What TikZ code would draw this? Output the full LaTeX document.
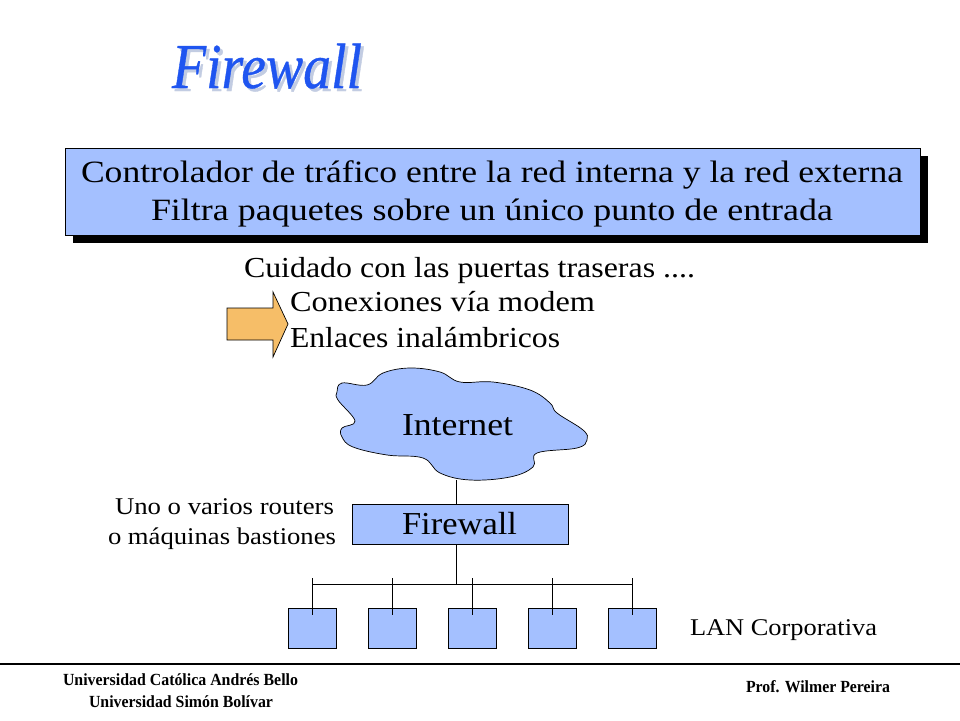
\documentclass[tikz,border=0pt]{standalone}
\usepackage{fontspec}
\usepackage{graphicx}
\setmainfont{Liberation Serif}
\newfontfamily\titlefont[FakeBold=0.6]{Liberation Serif}
\definecolor{boxblue}{HTML}{A4C0FF}
\definecolor{titleblue}{HTML}{1F55F0}
\definecolor{titleshadow}{HTML}{C2CCE2}
\definecolor{arroworange}{HTML}{F6BE68}
\newcommand{\fitw}[2]{\resizebox{#1pt}{\height}{#2}}
\tikzset{
  txt/.style={anchor=base west,inner sep=0pt,outer sep=0pt,text=black},
  body/.style={txt,font=\fontsize{29}{29}\selectfont},
  small/.style={txt,font=\fontsize{24}{24}\selectfont},
  foot/.style={txt,font=\fontsize{17}{17}\selectfont\bfseries},
  bluebox/.style={draw=black,line width=0.8pt,fill=boxblue,inner sep=0pt,outer sep=0pt},
  conn/.style={draw=black,line width=0.9pt}
}
\begin{document}
\begin{tikzpicture}[x=1pt,y=-1pt]
\useasboundingbox (0,0) rectangle (960,720);
\fill[white] (0,0) rectangle (960,720);
% title
\node[txt,text=titleshadow,font=\fontsize{64}{64}\titlefont\itshape] (titleshade) at (175,91) {\fitw{190}{Firewall}};
\node[txt,text=titleblue,font=\fontsize{64}{64}\titlefont\itshape] (title) at (172,88) {\fitw{190}{Firewall}};
% banner
\fill[black] (73,156) rectangle (928,243);
\node[bluebox,minimum width=855pt,minimum height=87pt] (banner) at (492.5,191.5) {};
\node[body,font=\fontsize{31}{31}\selectfont] (b1) at (81,182) {\fitw{822}{Controlador de tráfico entre la red interna y la red externa}};
\node[body,font=\fontsize{31}{31}\selectfont] (b2) at (151,220) {\fitw{682}{Filtra paquetes sobre un único punto de entrada}};
% warning text
\node[body] (c1) at (244,277) {\fitw{451}{Cuidado con las puertas traseras ....}};
\node[body] (c2) at (290,311) {\fitw{305}{Conexiones vía modem}};
\node[body] (c3) at (290,347) {\fitw{270}{Enlaces inalámbricos}};
% arrow
\draw[black,line width=0.7pt,fill=arroworange,line join=miter]
  (227,308) -- (273,308) -- (273,292) -- (288,324) -- (273,357) -- (273,340) -- (227,340) -- cycle;
% cloud
\draw[black,line width=0.7pt,fill=boxblue] plot[smooth cycle,tension=0.65] coordinates {
 (337,392) (342,383) (367,385) (383,373) (410,368) (440,372) (460,382)
 (493,382) (530,390) (550,403) (557,413) (583,430) (587,440) (577,448)
 (537,453) (533,467) (510,477) (470,480) (440,473) (423,458) (387,455)
 (353,447) (342,437) (342,428) (355,421) (338,400)};
\coordinate (cloudfoot) at (456,480);
\node[txt,font=\fontsize{32}{32}\selectfont] (inet) at (402,435) {\fitw{111}{Internet}};
% firewall
\node[bluebox,minimum width=216pt,minimum height=40pt] (fw) at (460,524) {};
\node[txt,font=\fontsize{32}{32}\selectfont] (fwt) at (402,534) {\fitw{115}{Firewall}};
% LAN boxes
\foreach \i/\x in {1/312.5,2/392.5,3/472.5,4/552.5,5/632.5}{
  \node[bluebox,minimum width=48pt,minimum height=40pt] (n\i) at (\x,628) {};
}
\coordinate (busy) at (456,584);
\draw[conn] (cloudfoot) -- (cloudfoot |- fw.north);
\draw[conn] (cloudfoot |- fw.south) -- (cloudfoot |- busy);
\draw[conn] (n1.north |- busy) -- (n5.north |- busy);
\foreach \i in {1,...,5}{
  \draw[conn] ([yshift=30pt]n\i.north) -- ([yshift=-7pt]n\i.north);
}
% side labels
\node[small] (s1) at (115,514) {\fitw{219}{Uno o varios routers}};
\node[small] (s2) at (108,544) {\fitw{228}{o máquinas bastiones}};
\node[small] (s3) at (690,635) {\fitw{187}{LAN Corporativa}};
% footer
\draw[black,line width=1.4pt] (0,664) -- (960,664);
\node[foot] (f1) at (63,685) {\fitw{235}{Universidad Católica Andrés Bello}};
\node[foot] (f2) at (89,707) {\fitw{184}{Universidad Simón Bolívar}};
\node[foot] (f3) at (746,692) {\fitw{144}{Prof. Wilmer Pereira}};
\end{tikzpicture}
\end{document}
